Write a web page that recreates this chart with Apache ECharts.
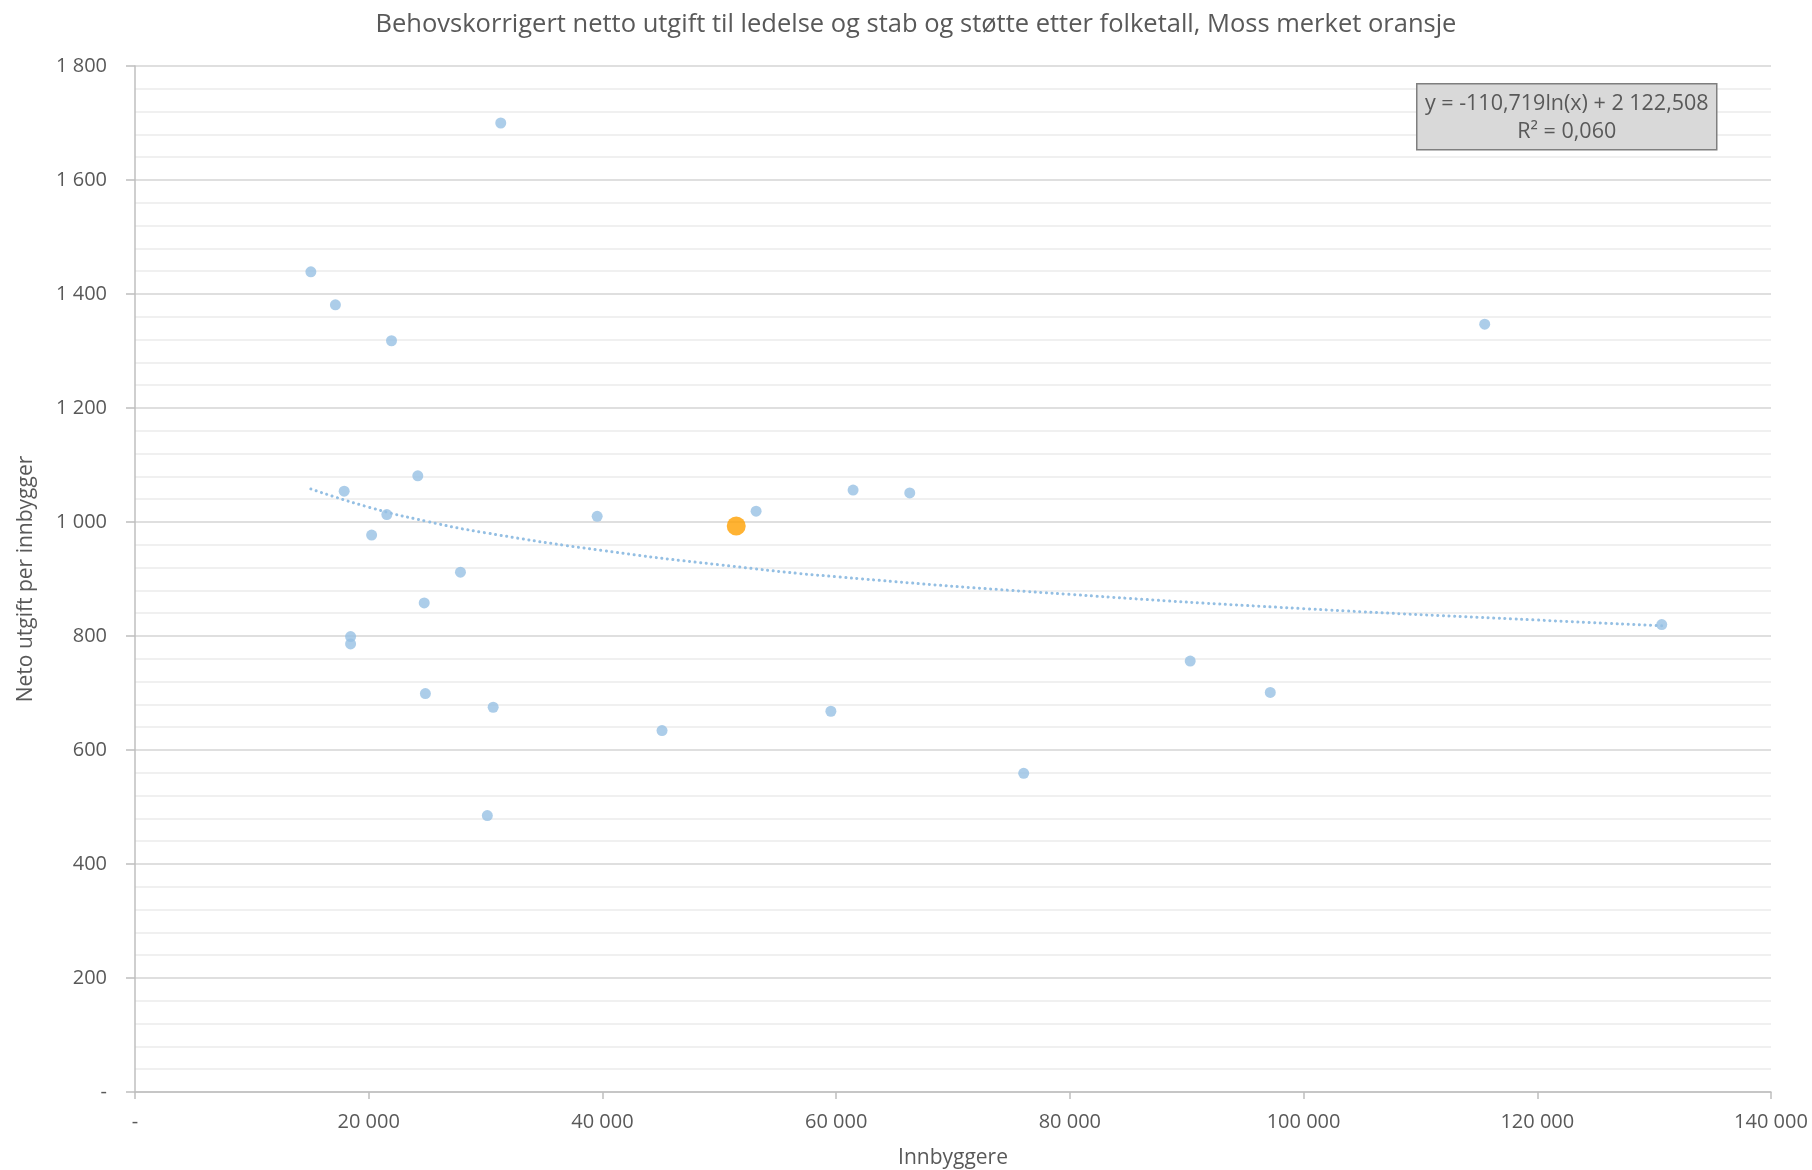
<!DOCTYPE html>
<html>
<head>
<meta charset="utf-8">
<script src="https://cdn.jsdelivr.net/npm/echarts@6/dist/echarts.min.js"></script>
<style>
html,body{margin:0;padding:0;background:#fff;}
#chart{width:1812px;height:1170px;}
</style>
</head>
<body>
<div id="chart"></div>
<script>
// Innbyggere (x) and behovskorrigert netto utgift per innbygger (y), other municipalities
const innbyggere = [31300, 15050, 17150, 21950, 24200, 17900, 21550, 20250, 39550, 53150, 27850, 24750, 18450, 18450, 24850, 30650, 45100, 30150, 61450, 66300, 59550, 76050, 115500, 130650, 90300, 97150];
const utgift     = [1700, 1439, 1381, 1318, 1081, 1054, 1013, 977, 1010, 1019, 912, 858, 799, 786, 699, 675, 634, 485, 1056, 1051, 668, 559, 1347, 820, 756, 701];
// Moss
const mossInnbyggere = [51450];
const mossUtgift = [993];
// Trend line (logarithmic)
const trendX = [15050, 20000, 25000, 30000, 40000, 50000, 60000, 80000, 100000, 120000, 130650];
const trendY = [1058, 1026, 1001, 981, 950, 925, 904, 873, 848, 828, 818];
const xTicks = [0, 20000, 40000, 60000, 80000, 100000, 120000, 140000];
const yTicks = [0, 200, 400, 600, 800, 1000, 1200, 1400, 1600, 1800];
const titleText = 'Behovskorrigert netto utgift til ledelse og stab og støtte etter folketall, Moss merket oransje';
const eqLine1 = 'y = -110,719ln(x) + 2 122,508';
const eqLine2 = 'R² = 0,060';

function fmt(v){
  if (v === 0) return '-';
  return String(v).replace(/\B(?=(\d{3})+(?!\d))/g, ' ');
}

const FONT = '"Open Sans", sans-serif';
const TXT = '#595959';
const chart = echarts.init(document.getElementById('chart'));
chart.setOption({
  backgroundColor: '#fff',
  animation: false,
  title: {
    text: titleText,
    left: 911, top: 7, textAlign: 'center',
    textStyle: {fontFamily: FONT, fontSize: 25.5, fontWeight: 'normal', color: TXT}
  },
  grid: {left: 135, right: 41, top: 66, bottom: 78, containLabel: false, outerBoundsMode: 'none'},
  xAxis: {
    type: 'value', min: xTicks[0], max: xTicks[xTicks.length-1], interval: xTicks[1]-xTicks[0],
    name: 'Innbyggere', nameLocation: 'middle', nameGap: 56,
    nameTextStyle: {fontFamily: FONT, fontSize: 21, color: TXT},
    axisLine: {show: true, lineStyle: {color: '#bfbfbf', width: 1.5}},
    axisTick: {show: true, length: 7, lineStyle: {color: '#bfbfbf', width: 1.5}},
    axisLabel: {fontFamily: FONT, fontSize: 20, color: TXT, margin: 20, formatter: fmt, showMinLabel: true, showMaxLabel: true},
    splitLine: {show: false}
  },
  yAxis: {
    type: 'value', min: yTicks[0], max: yTicks[yTicks.length-1], interval: yTicks[1]-yTicks[0],
    name: 'Neto utgift per innbygger', nameLocation: 'middle', nameGap: 98, nameRotate: 90,
    nameTextStyle: {fontFamily: FONT, fontSize: 21, color: TXT},
    axisLine: {show: true, lineStyle: {color: '#bfbfbf', width: 1.5}},
    axisTick: {show: true, length: 9, lineStyle: {color: '#bfbfbf', width: 1.5}},
    axisLabel: {fontFamily: FONT, fontSize: 20, color: TXT, margin: 28, formatter: fmt},
    splitLine: {show: true, lineStyle: {color: '#d4d4d4', width: 1.5}},
    minorTick: {show: false, splitNumber: 5},
    minorSplitLine: {show: true, lineStyle: {color: '#ececec', width: 1.5}}
  },
  series: [
    {
      type: 'line', name: 'Trend',
      data: trendX.map((x, i) => [x, trendY[i]]),
      smooth: 0.5, symbol: 'none', silent: true,
      lineStyle: {color: '#94bfe3', width: 3, type: [0.1, 5.5], cap: 'round'},
      z: 2
    },
    {
      type: 'scatter', name: 'Kommuner',
      data: innbyggere.map((x, i) => [x, utgift[i]]),
      symbol: 'circle', symbolSize: 11,
      itemStyle: {color: '#97c1e4'},
      z: 3
    },
    {
      type: 'scatter', name: 'Moss',
      data: mossInnbyggere.map((x, i) => [x, mossUtgift[i]]),
      symbol: 'circle', symbolSize: 19,
      itemStyle: {color: '#ffa000'},
      z: 4
    }
  ],
  graphic: [
    {
      type: 'group', left: 1416, top: 83, z: 100,
      children: [
        {type: 'rect', z: 100, shape: {x: 0, y: 0, width: 300, height: 66},
         style: {fill: '#d9d9d9', stroke: '#7f7f7f', lineWidth: 1.5}},
        {type: 'text', z: 101, x: 150, y: 20, style: {text: eqLine1, fontFamily: FONT, fontSize: 21.5, fill: TXT, align: 'center', verticalAlign: 'middle'}},
        {type: 'text', z: 101, x: 150, y: 48, style: {text: eqLine2, fontFamily: FONT, fontSize: 21.5, fill: TXT, align: 'center', verticalAlign: 'middle'}}
      ]
    }
  ]
});
</script>
</body>
</html>
